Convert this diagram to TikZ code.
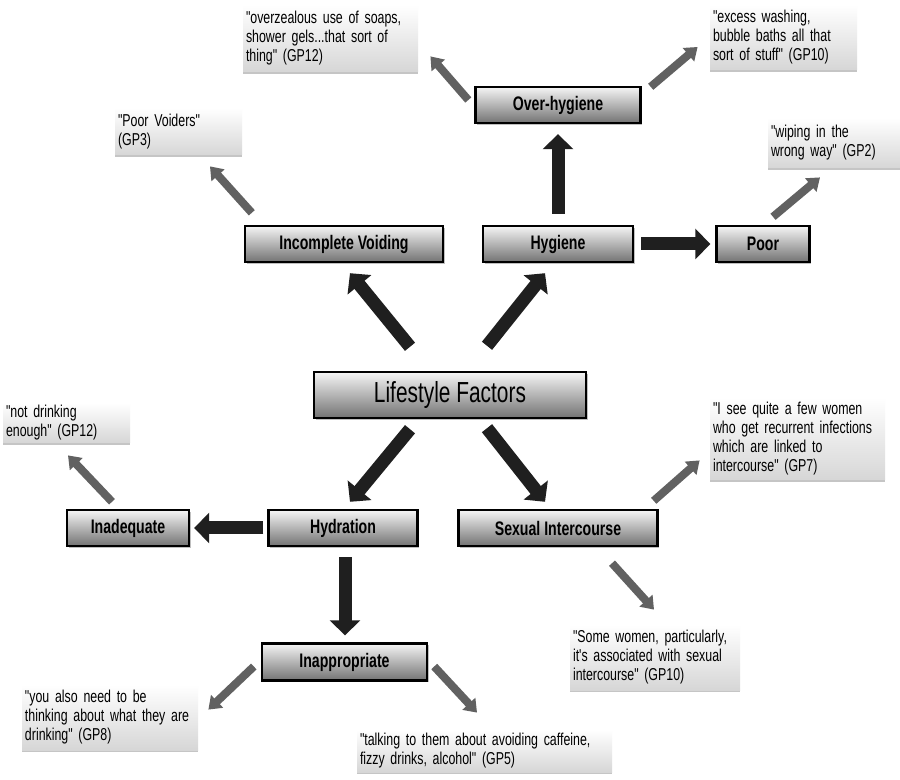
\documentclass[tikz,border=0pt]{standalone}
\usepackage{fontspec}
\setmainfont{Liberation Sans}[FakeStretch=0.72,Ligatures=TeXOff]
\usetikzlibrary{arrows.meta,shadows}

\begin{document}
\begin{tikzpicture}[x=0.5pt,y=-0.5pt,
      theme/.style={draw=black,line width=1.2pt,top color=black!4,bottom color=black!55,
        minimum height=18pt,inner sep=0pt,font=\bfseries\fontsize{9.8}{11}\selectfont,
        drop shadow={shadow xshift=0.8pt,shadow yshift=-0.8pt,opacity=0.5}},
      quote/.style={top color=white,bottom color=black!16,inner xsep=1.5pt,inner ysep=1pt,
        align=left,font=\fontsize{8.6}{9.5}\selectfont,
        drop shadow={shadow xshift=0pt,shadow yshift=-1.2pt,opacity=0.45}},
      bigarr/.style={draw=black!88,line width=6.5pt,-{Triangle[length=7.5pt,width=15pt]}},
      smallarr/.style={draw=black!62,line width=4pt,-{Triangle[length=6pt,width=8.5pt]}}
      ]
      \useasboundingbox (0,0) rectangle (900,780);
      \fill[white] (0,0) rectangle (900,780);

      % themes
      \node[theme,minimum width=136pt,minimum height=23pt,font=\fontsize{14.5}{16}\selectfont] (life) at (450,395) {Lifestyle Factors};
      \node[theme,minimum width=99pt] (incv) at (344,244) {Incomplete Voiding};
      \node[theme,minimum width=75pt] (hyg) at (558,244) {Hygiene};
      \node[theme,minimum width=46.5pt] (poor) at (763,244) {Poor};
      \node[theme,minimum width=82.5pt] (over) at (558,105) {Over-hygiene};
      \node[theme,minimum width=74.5pt] (hyd) at (343,528) {Hydration};
      \node[theme,minimum width=61pt] (inad) at (128,528) {Inadequate};
      \node[theme,minimum width=99.5pt] (sex) at (558,528) {Sexual Intercourse};
      \node[theme,minimum width=82.5pt,minimum height=18.5pt] (inap) at (344.5,662) {Inappropriate};

      % quotes
      \node[quote,text width=84.5pt,minimum height=33.5pt] (qsoap) at (330.5,38.5)
        {"overzealous use of soaps,\\ shower gels...that sort of\\ thing" (GP12)};
      \node[quote,text width=60.5pt,minimum height=23.5pt] (qvoid) at (178.5,131.5)
        {"Poor Voiders"\\ (GP3)};
      \node[quote,text width=70.5pt,minimum height=32.5pt] (qwash) at (783.5,37.5)
        {"excess washing,\\ bubble baths all that\\ sort of stuff" (GP10)};
      \node[quote,text width=63pt,minimum height=25pt] (qwipe) at (834,143)
        {"wiping in the\\ wrong way" (GP2)};
      \node[quote,text width=60.5pt,minimum height=20pt] (qdrink) at (66.5,423)
        {"not drinking\\ enough" (GP12)};
      \node[quote,text width=84.5pt,minimum height=41.5pt] (qsee) at (797.5,438.5)
        {"I see quite a few women\\ who get recurrent infections\\ which are linked to\\ intercourse" (GP7)};
      \node[quote,text width=82pt,minimum height=32.5pt] (qsome) at (655,657.5)
        {"Some women, particularly,\\ it's associated with sexual\\ intercourse" (GP10)};
      \node[quote,text width=85pt,minimum height=32.5pt] (qneed) at (110,717.5)
        {"you also need to be\\ thinking about what they are\\ drinking" (GP8)};
      \node[quote,text width=124.5pt,minimum height=21pt] (qtalk) at (484.5,751)
        {"talking to them about avoiding caffeine,\\ fizzy drinks, alcohol" (GP5)};

      % theme links
      \draw[bigarr] ([shift={(-40,-24)}]life.north) -- ([shift={(6,10)}]incv.south);
      \draw[bigarr] ([shift={(37,-25)}]life.north) -- ([shift={(-13,10)}]hyg.south);
      \draw[bigarr] ([shift={(0,-11)}]hyg.north) -- ([shift={(0,10)}]over.south);
      \draw[bigarr] ([shift={(7,0)}]hyg.east) -- ([shift={(-5,0)}]poor.west);
      \draw[bigarr] ([shift={(-40,10)}]life.south) -- ([shift={(7,-7)}]hyd.north);
      \draw[bigarr] ([shift={(37,9)}]life.south) -- ([shift={(-13,-7)}]sex.north);
      \draw[bigarr] ([shift={(-4,0)}]hyd.west) -- ([shift={(4,0)}]inad.east);
      \draw[bigarr] ([shift={(2,10)}]hyd.south) -- ([shift={(0.5,-7)}]inap.north);

      % quote links
      \draw[smallarr] ([shift={(8,-12)}]incv.north west) -- ([shift={(31.5,11)}]qvoid.south);
      \draw[smallarr] ([shift={(-6,-5)}]over.west) -- ([shift={(12,-16)}]qsoap.south east);
      \draw[smallarr] ([shift={(9,1)}]over.north east) -- ([shift={(-12,9.5)}]qwash.west);
      \draw[smallarr] ([shift={(10,-8)}]poor.north) -- ([shift={(-14,9)}]qwipe.south);
      \draw[smallarr] ([shift={(-16,-7)}]inad.north) -- ([shift={(1.5,12)}]qdrink.south);
      \draw[smallarr] ([shift={(-5,-8)}]sex.north east) -- ([shift={(-10,-20)}]qsee.south west);
      \draw[smallarr] ([shift={(54,16)}]sex.south) -- ([shift={(-1,-15)}]qsome.north);
      \draw[smallarr] ([shift={(-7,4.5)}]inap.west) -- ([shift={(10,25)}]qneed.north east);
      \draw[smallarr] ([shift={(6,4.5)}]inap.east) -- ([shift={(-7.5,-17)}]qtalk.north);
    \end{tikzpicture}
\end{document}
